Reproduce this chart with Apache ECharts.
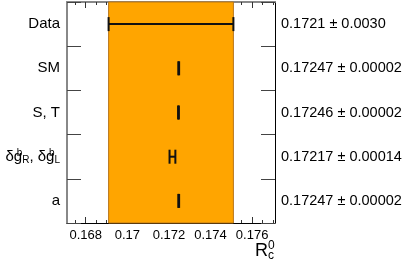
<!DOCTYPE html>
<html><head><meta charset="utf-8">
<script src="https://cdn.jsdelivr.net/npm/echarts@6/dist/echarts.min.js"></script>
<style>html,body{margin:0;padding:0;background:#fff}#c{width:407px;height:271px}</style>
</head><body><div id="c"></div>
<script>
const categories = ['Data', 'SM', 'S, T', 'dg', 'a'];
const values = [0.1721, 0.17247, 0.17246, 0.17217, 0.17247];
const errors = [0.0030, 0.00002, 0.00002, 0.00014, 0.00002];
const valueLabels = ['0.1721 \u00b1 0.0030', '0.17247 \u00b1 0.00002', '0.17246 \u00b1 0.00002', '0.17217 \u00b1 0.00014', '0.17247 \u00b1 0.00002'];
const majorTicks = [0.168, 0.170, 0.172, 0.174, 0.176];
const minorTicks = [0.1675, 0.1685, 0.169, 0.1695, 0.1705, 0.171, 0.1715, 0.1725, 0.173, 0.1735, 0.1745, 0.175, 0.1755, 0.1765, 0.177];
const bandLow = 0.1691, bandHigh = 0.1751;
const xMin = 0.1671, xMax = 0.1771;

const FONT = 'Liberation Sans';
const chart = echarts.init(document.getElementById('c'), null, {renderer: 'canvas'});
const data = values.map((v, i) => [v, i, errors[i]]);

function xAxisDef(pos, ticks, len, showLabel, lineColor, showLine) {
  return {
    type: 'value', position: pos, min: xMin, max: xMax,
    axisLine: {show: showLine, lineStyle: {color: lineColor, width: pos === 'top' ? 2 : 1}},
    axisTick: {show: true, inside: true, length: len, customValues: ticks, lineStyle: {color: '#333', width: 1}},
    axisLabel: {show: showLabel, customValues: ticks, margin: 6, color: '#000', fontFamily: FONT, fontSize: 13,
      formatter: v => String(+v.toFixed(3))},
    splitLine: {show: false}
  };
}

chart.setOption({
  animation: false,
  grid: {left: 67, right: 132, top: 2, bottom: 48, containLabel: false},
  xAxis: [
    xAxisDef('bottom', majorTicks, 6, true, '#000', true),
    xAxisDef('bottom', minorTicks, 3, false, '#000', false),
    xAxisDef('top', majorTicks, 6, false, '#888', true),
    xAxisDef('top', minorTicks, 3, false, '#888', false)
  ],
  yAxis: [
    {type: 'category', data: categories, inverse: true, position: 'left',
     axisLine: {show: true, lineStyle: {color: '#888', width: 2}},
     axisTick: {show: true, inside: true, length: 14, lineStyle: {color: '#444', width: 1}},
     axisLabel: {margin: 7, color: '#000', fontFamily: FONT, fontSize: 15,
       formatter: v => v === 'dg' ? '{m|\u03b4g}{p|b}{s|R}{m|, \u03b4g}{p|b}{s|L}' : v,
       rich: {
         m: {fontFamily: FONT, fontSize: 15, color: '#000'},
         p: {fontFamily: FONT, fontSize: 10, color: '#000', width: 0, padding: [0, 0, 7, 0]},
         s: {fontFamily: FONT, fontSize: 10, color: '#000', padding: [7, 0, 0, 0]}
       }}},
    {type: 'category', data: valueLabels, inverse: true, position: 'right',
     axisLine: {show: true, lineStyle: {color: '#000', width: 1}},
     axisTick: {show: true, inside: true, length: 14, lineStyle: {color: '#444', width: 1}},
     axisLabel: {margin: 6, color: '#000', fontFamily: FONT, fontSize: 14.5}}
  ],
  series: [{
    type: 'custom', xAxisIndex: 0, yAxisIndex: 0,
    data: data,
    markArea: {silent: true, itemStyle: {color: '#FFA500', borderColor: '#b8761a', borderWidth: 1},
      data: [[{xAxis: bandLow}, {xAxis: bandHigh}]]},
    renderItem: function (params, api) {
      const v = api.value(0), c = api.value(1), e = api.value(2);
      const lo = api.coord([v - e, c]), hi = api.coord([v + e, c]);
      const y = lo[1], h = 7;
      const st = {stroke: '#111', lineWidth: 2};
      return {type: 'group', children: [
        {type: 'line', shape: {x1: lo[0], y1: y, x2: hi[0], y2: y}, style: st},
        {type: 'line', shape: {x1: lo[0], y1: y - h, x2: lo[0], y2: y + h}, style: st},
        {type: 'line', shape: {x1: hi[0], y1: y - h, x2: hi[0], y2: y + h}, style: st}
      ]};
    }
  }],
  graphic: [{
    type: 'text', left: 255, top: 240,
    style: {text: '{r|R}{p|0}{s|c}', rich: {
      r: {fontFamily: FONT, fontSize: 18, color: '#000'},
      p: {fontFamily: FONT, fontSize: 12, color: '#000', width: 0, padding: [0, 0, 10, 0]},
      s: {fontFamily: FONT, fontSize: 12, color: '#000', padding: [10, 0, 0, 0]}
    }}
  }]
});
</script></body></html>
